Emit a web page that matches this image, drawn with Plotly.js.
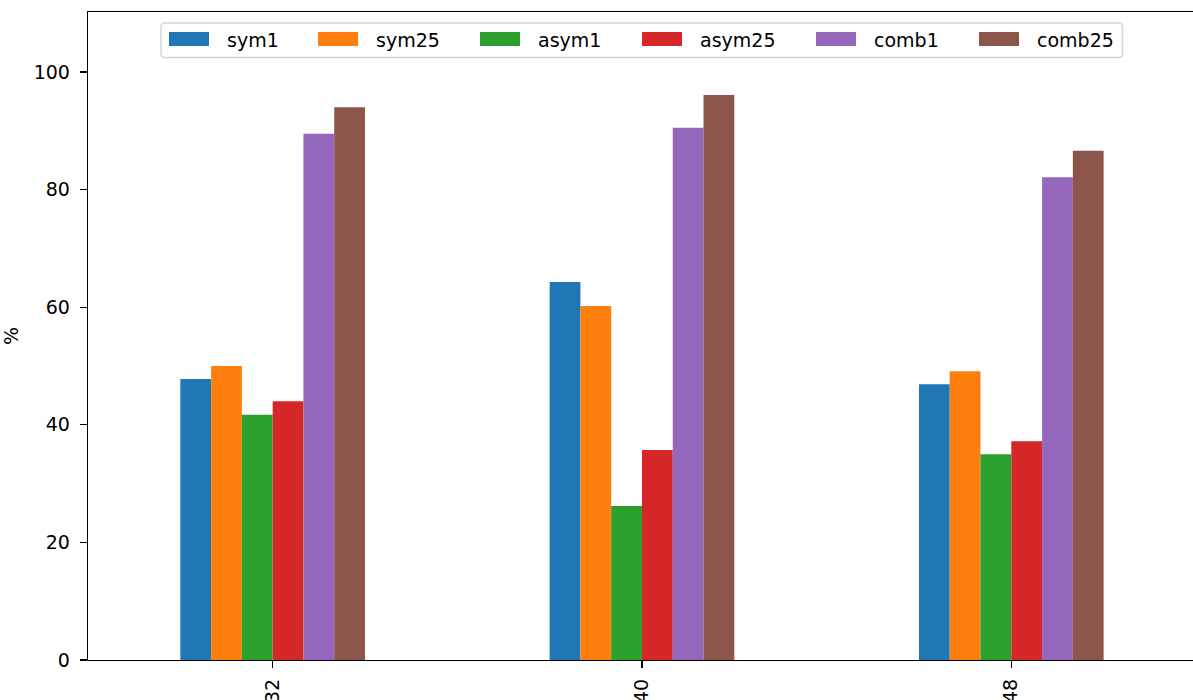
<!DOCTYPE html>
<html><head><meta charset="utf-8">
<script src="https://cdn.plot.ly/plotly-3.0.1.min.js"></script>
<style>html,body{margin:0;padding:0;background:#fff}#chart{width:1193px;height:700px}</style>
</head><body><div id="chart"></div>
<script>
const categories = ["32", "40", "48"];
const seriesNames = ["sym1", "sym25", "asym1", "asym25", "comb1", "comb25"];
const sym1 = [47.8, 64.3, 46.9];
const sym25 = [50.0, 60.2, 49.1];
const asym1 = [41.7, 26.2, 35.0];
const asym25 = [44.0, 35.7, 37.2];
const comb1 = [89.5, 90.5, 82.1];
const comb25 = [94.0, 96.1, 86.6];
const colors = ["#1f77b4", "#ff7f0e", "#2ca02c", "#d62728", "#9467bd", "#8c564b"];
const seriesValues = [sym1, sym25, asym1, asym25, comb1, comb25];

const traces = seriesValues.map((vals, i) => ({
  type: "bar", name: seriesNames[i], x: [0, 1, 2], y: vals,
  marker: {color: colors[i], line: {width: 0}}, hoverinfo: "none"
}));

// plot area in pixels (for placing the matplotlib-style legend)
const L = 88, R = 1193, T = 12, B = 660;
const px = p => (p - L) / (R - L);
const py = p => (B - p) / (B - T);

const shapes = [];
const annotations = [];
// legend frame with rounded corners
(function () {
  const x0 = 161, x1 = 1122.5, y0 = 23, y1 = 57.5, r = 4;
  const P = (a, b) => px(a) + "," + py(b);
  const path = "M" + P(x0 + r, y0) + " L" + P(x1 - r, y0) + " Q" + P(x1, y0) + " " + P(x1, y0 + r) +
    " L" + P(x1, y1 - r) + " Q" + P(x1, y1) + " " + P(x1 - r, y1) +
    " L" + P(x0 + r, y1) + " Q" + P(x0, y1) + " " + P(x0, y1 - r) +
    " L" + P(x0, y0 + r) + " Q" + P(x0, y0) + " " + P(x0 + r, y0) + " Z";
  shapes.push({type: "path", xref: "paper", yref: "paper", path: path,
    line: {color: "#d6d6d6", width: 1.5}, fillcolor: "rgba(255,255,255,0.8)", layer: "above"});
})();
const swatchLeft = [169, 318, 480, 642, 816, 979];
seriesNames.forEach((name, i) => {
  const s = swatchLeft[i];
  shapes.push({type: "rect", xref: "paper", yref: "paper",
    x0: px(s), x1: px(s + 40), y0: py(46), y1: py(32),
    fillcolor: colors[i], line: {width: 0}, layer: "above"});
  annotations.push({xref: "paper", yref: "paper", x: px(s + 56), y: py(40),
    xanchor: "left", yanchor: "middle", text: name, showarrow: false,
    font: {family: "DejaVu Sans", size: 19, color: "#000"}});
});

const layout = {
  width: 1193, height: 700,
  margin: {l: L, r: 0, t: T, b: 700 - B},
  paper_bgcolor: "#fff", plot_bgcolor: "#fff",
  font: {family: "DejaVu Sans", size: 19, color: "#000"},
  barmode: "group", bargap: 0.5, bargroupgap: 0,
  showlegend: false,
  shapes: shapes, annotations: annotations,
  xaxis: {
    range: [-0.5, 2.492], tickvals: [0, 1, 2], ticktext: categories,
    tickangle: -90, ticks: "outside", ticklen: 7, tickwidth: 1.3, tickcolor: "#000",
    showline: true, linecolor: "#000", linewidth: 1.3, mirror: true,
    showgrid: false, zeroline: false, tickfont: {size: 19}, ticklabelstandoff: 3
  },
  yaxis: {
    range: [0, 110.2], tickvals: [0, 20, 40, 60, 80, 100],
    ticks: "outside", ticklen: 7, tickwidth: 1.3, tickcolor: "#000",
    showline: true, linecolor: "#000", linewidth: 1.3,
    showgrid: false, zeroline: false, tickfont: {size: 19}, ticklabelstandoff: 6,
    title: {text: "%", font: {size: 19}, standoff: 14}
  }
};
Plotly.newPlot("chart", traces, layout, {displayModeBar: false, staticPlot: true});
</script></body></html>
